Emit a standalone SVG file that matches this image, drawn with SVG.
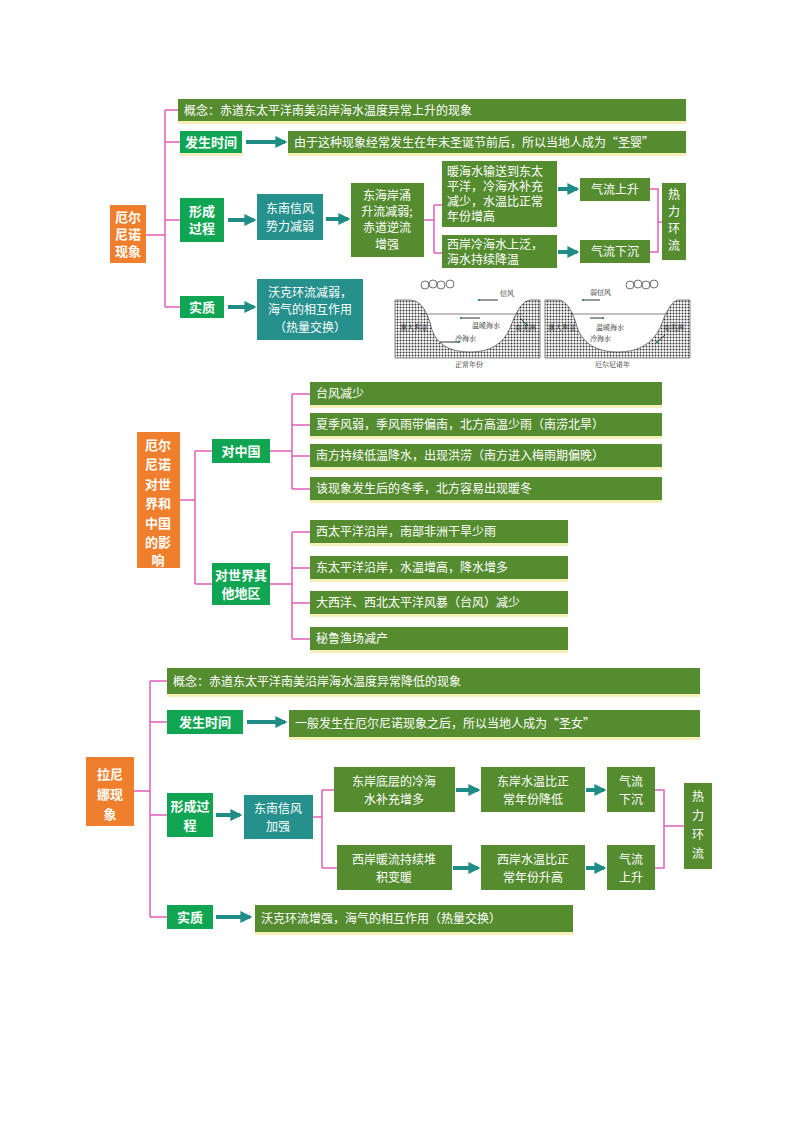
<svg xmlns="http://www.w3.org/2000/svg" width="800" height="1132" viewBox="0 0 800 1132">
<defs>
<marker id="ah" viewBox="0 0 10 10" refX="8" refY="5" markerWidth="3" markerHeight="3" orient="auto"><path d="M0,0 L10,5 L0,10 z" fill="#1f8c86"/></marker>
<pattern id="dots" width="3" height="3" patternUnits="userSpaceOnUse"><rect width="3" height="3" fill="#fff"/><circle cx="1.5" cy="1.5" r="1" fill="#333"/></pattern>
</defs>
<style>
text{font-family:"Noto Sans CJK SC","Noto Sans",sans-serif;fill:#fff;}
.ol{fill:#548c2f;}
.gr{fill:#10a552;}
.tl{fill:#25908c;}
.or{fill:#ef7f2c;}
.sh{fill:#f0ea9a;opacity:.7;}
.pk{stroke:#e060b8;stroke-width:1.5;fill:none;}
.ar{stroke:#1f8c86;stroke-width:4;fill:none;marker-end:url(#ah);}
.t{font-size:12px;}
.tb{font-size:13px;font-weight:bold;}
.tk{fill:#222;font-size:7px;font-family:"Noto Serif CJK SC","Noto Sans CJK SC",serif;}
</style>
<rect width="800" height="1132" fill="#fff"/>

<g id="connectors">
<path class="pk" d="M146,235 H165 M165,110 V307 M165,110 H178 M165,142 H180 M165,220 H180 M165,307 H180"/>
<path class="pk" d="M424,220 H434 M434,205 V253 M434,205 H442 M434,253 H442"/>
<path class="pk" d="M650,189 H658 V252 H650 M658,222 H662"/>
<path class="ar" d="M246,142 H285"/>
<path class="ar" d="M228,220 H254"/>
<path class="ar" d="M326,219 H348"/>
<path class="ar" d="M558,189 H577"/>
<path class="ar" d="M558,252 H577"/>
<path class="ar" d="M228,307 H254"/>

<path class="pk" d="M180,500 H195 M195,451 V584 M195,451 H212 M195,584 H212"/>
<path class="pk" d="M270,451 H292 M292,394 V489 M292,394 H310 M292,425 H310 M292,456 H310 M292,489 H310"/>
<path class="pk" d="M270,584 H292 M292,532 V639 M292,532 H310 M292,568 H310 M292,603 H310 M292,639 H310"/>

<path class="pk" d="M134,791 H150 M150,681 V917 M150,681 H167 M150,722 H167 M150,815 H167 M150,917 H167"/>
<path class="pk" d="M313,817 H322 M322,790 V868 M322,790 H334 M322,868 H337"/>
<path class="pk" d="M655,790 H664 V868 H655 M664,826 H684"/>
<path class="ar" d="M247,722 H285"/>
<path class="ar" d="M216,815 H240"/>
<path class="ar" d="M456,790 H478"/>
<path class="ar" d="M453,868 H478"/>
<path class="ar" d="M586,790 H604"/>
<path class="ar" d="M586,868 H604"/>
<path class="ar" d="M216,917 H250"/>
</g>

<!-- Section 1 -->
<g id="n1"><rect x="110" y="205" width="36" height="58" class="or"/><text class="tb" x="128" y="222" text-anchor="middle">厄尔</text><text class="tb" x="128" y="239" text-anchor="middle">尼诺</text><text class="tb" x="128" y="256" text-anchor="middle">现象</text></g>
<g id="n2"><rect x="178" y="121" width="508" height="3" class="sh"/><rect x="178" y="99" width="508" height="22" class="ol"/><text class="t" x="184" y="115">概念：赤道东太平洋南美沿岸海水温度异常上升的现象</text></g>
<g id="n3"><rect x="180" y="153" width="62" height="3" class="sh"/><rect x="180" y="131" width="62" height="22" class="gr"/><text class="tb" x="211" y="147" text-anchor="middle">发生时间</text></g>
<g id="n4"><rect x="288" y="153" width="398" height="3" class="sh"/><rect x="288" y="131" width="398" height="22" class="ol"/><text class="t" x="294" y="147">由于这种现象经常发生在年末圣诞节前后，所以当地人成为“圣婴”</text></g>
<g id="n5"><rect x="180" y="198" width="44" height="44" class="gr"/><text class="tb" x="202" y="216" text-anchor="middle">形成</text><text class="tb" x="202" y="233" text-anchor="middle">过程</text></g>
<g id="n6"><rect x="257" y="194" width="66" height="46" class="tl"/><text class="t" x="290" y="213" text-anchor="middle">东南信风</text><text class="t" x="290" y="231" text-anchor="middle">势力减弱</text></g>
<g id="n7"><rect x="351" y="183" width="73" height="74" class="ol"/><text class="t" x="387" y="200" text-anchor="middle">东海岸涌</text><text class="t" x="387" y="216" text-anchor="middle">升流减弱;</text><text class="t" x="387" y="232" text-anchor="middle">赤道逆流</text><text class="t" x="387" y="249" text-anchor="middle">增强</text></g>
<g id="n8"><rect x="442" y="161" width="115" height="66" class="ol"/><text class="t" x="447" y="176">暖海水输送到东太</text><text class="t" x="447" y="191">平洋，冷海水补充</text><text class="t" x="447" y="206">减少，水温比正常</text><text class="t" x="447" y="221">年份增高</text></g>
<g id="n9"><rect x="442" y="235" width="115" height="33" class="ol"/><text class="t" x="447" y="249">西岸冷海水上泛，</text><text class="t" x="447" y="264">海水持续降温</text></g>
<g id="n10"><rect x="580" y="178" width="70" height="23" class="ol"/><text class="t" x="615" y="194" text-anchor="middle">气流上升</text></g>
<g id="n11"><rect x="580" y="240" width="70" height="23" class="ol"/><text class="t" x="615" y="256" text-anchor="middle">气流下沉</text></g>
<g id="n12"><rect x="662" y="183" width="24" height="77" class="ol"/><text class="t" x="674" y="199" text-anchor="middle">热</text><text class="t" x="674" y="216" text-anchor="middle">力</text><text class="t" x="674" y="233" text-anchor="middle">环</text><text class="t" x="674" y="250" text-anchor="middle">流</text></g>
<g id="n13"><rect x="180" y="296" width="44" height="22" class="gr"/><text class="tb" x="202" y="312" text-anchor="middle">实质</text></g>
<g id="n14"><rect x="257" y="279" width="106" height="61" class="tl"/><text class="t" x="310" y="297" text-anchor="middle">沃克环流减弱，</text><text class="t" x="310" y="314" text-anchor="middle">海气的相互作用</text><text class="t" x="310" y="332" text-anchor="middle">（热量交换）</text></g>

<g id="figure">
<path d="M395,300 H410 Q425,300 432,330 Q440,352 470,352 Q500,352 510,328 Q520,300 530,300 H540 V358 H395 z" fill="url(#dots)" stroke="#333" stroke-width=".6"/>
<line x1="420" y1="314" x2="522" y2="314" stroke="#333" stroke-width=".6"/>
<path d="M545,300 H558 Q570,300 578,330 Q588,352 618,352 Q648,352 660,328 Q670,300 678,300 H690 V358 H545 z" fill="url(#dots)" stroke="#333" stroke-width=".6"/>
<line x1="570" y1="314" x2="668" y2="314" stroke="#333" stroke-width=".6"/>
<g fill="none" stroke="#333" stroke-width=".7">
<circle cx="425" cy="285" r="4"/><circle cx="433" cy="284" r="4"/><circle cx="441" cy="285" r="4"/><circle cx="450" cy="284" r="4"/>
<circle cx="630" cy="285" r="4"/><circle cx="638" cy="284" r="4"/><circle cx="646" cy="285" r="4"/><circle cx="654" cy="284" r="4"/>
</g>
<g stroke="#333" stroke-width="1" marker-end="url(#ah)">
<line x1="498" y1="300" x2="478" y2="300"/><line x1="600" y1="300" x2="582" y2="300"/>
<line x1="480" y1="318" x2="460" y2="318"/><line x1="440" y1="342" x2="460" y2="342"/>
<line x1="520" y1="318" x2="528" y2="326"/><line x1="590" y1="318" x2="604" y2="318"/><line x1="665" y1="335" x2="656" y2="343"/>
</g>
<text class="tk" x="500" y="296">信风</text><text class="tk" x="590" y="295">弱信风</text>
<text class="tk" x="472" y="328">温暖海水</text><text class="tk" x="455" y="341">冷海水</text>
<text class="tk" x="596" y="330">温暖海水</text><text class="tk" x="590" y="341">冷海水</text>
<text class="tk" x="400" y="330">澳大利亚</text><text class="tk" x="515" y="330">南美洲</text>
<text class="tk" x="548" y="330">澳大利亚</text><text class="tk" x="663" y="330">南美洲</text>
<text class="tk" x="455" y="367">正常年份</text><text class="tk" x="595" y="367">厄尔尼诺年</text>
</g>

<!-- Section 2 -->
<g id="n15"><rect x="137" y="432" width="43" height="136" class="or"/><text class="tb" x="158" y="450" text-anchor="middle">厄尔</text><text class="tb" x="158" y="469" text-anchor="middle">尼诺</text><text class="tb" x="158" y="489" text-anchor="middle">对世</text><text class="tb" x="158" y="508" text-anchor="middle">界和</text><text class="tb" x="158" y="528" text-anchor="middle">中国</text><text class="tb" x="158" y="547" text-anchor="middle">的影</text><text class="tb" x="158" y="565" text-anchor="middle">响</text></g>
<g id="n16"><rect x="212" y="439" width="58" height="24" class="gr"/><text class="tb" x="241" y="456" text-anchor="middle">对中国</text></g>
<g id="n17"><rect x="212" y="563" width="58" height="42" class="gr"/><text class="tb" x="241" y="580" text-anchor="middle">对世界其</text><text class="tb" x="241" y="598" text-anchor="middle">他地区</text></g>
<g id="n18"><rect x="310" y="405" width="352" height="3" class="sh"/><rect x="310" y="382" width="352" height="23" class="ol"/><text class="t" x="316" y="398">台风减少</text></g>
<g id="n19"><rect x="310" y="436" width="352" height="3" class="sh"/><rect x="310" y="413" width="352" height="23" class="ol"/><text class="t" x="316" y="429">夏季风弱，季风雨带偏南，北方高温少雨（南涝北旱）</text></g>
<g id="n20"><rect x="310" y="467" width="352" height="3" class="sh"/><rect x="310" y="444" width="352" height="23" class="ol"/><text class="t" x="316" y="460">南方持续低温降水，出现洪涝（南方进入梅雨期偏晚）</text></g>
<g id="n21"><rect x="310" y="500" width="352" height="3" class="sh"/><rect x="310" y="477" width="352" height="23" class="ol"/><text class="t" x="316" y="493">该现象发生后的冬季，北方容易出现暖冬</text></g>
<g id="n22"><rect x="310" y="543" width="258" height="3" class="sh"/><rect x="310" y="520" width="258" height="23" class="ol"/><text class="t" x="316" y="536">西太平洋沿岸，南部非洲干旱少雨</text></g>
<g id="n23"><rect x="310" y="579" width="258" height="3" class="sh"/><rect x="310" y="556" width="258" height="23" class="ol"/><text class="t" x="316" y="572">东太平洋沿岸，水温增高，降水增多</text></g>
<g id="n24"><rect x="310" y="614" width="258" height="3" class="sh"/><rect x="310" y="591" width="258" height="23" class="ol"/><text class="t" x="316" y="607">大西洋、西北太平洋风暴（台风）减少</text></g>
<g id="n25"><rect x="310" y="650" width="258" height="3" class="sh"/><rect x="310" y="627" width="258" height="23" class="ol"/><text class="t" x="316" y="643">秘鲁渔场减产</text></g>

<!-- Section 3 -->
<g id="n26"><rect x="86" y="757" width="48" height="69" class="or"/><text class="tb" x="110" y="779" text-anchor="middle">拉尼</text><text class="tb" x="110" y="799" text-anchor="middle">娜现</text><text class="tb" x="110" y="819" text-anchor="middle">象</text></g>
<g id="n27"><rect x="167" y="694" width="533" height="3" class="sh"/><rect x="167" y="668" width="533" height="26" class="ol"/><text class="t" x="173" y="686">概念：赤道东太平洋南美沿岸海水温度异常降低的现象</text></g>
<g id="n28"><rect x="167" y="710" width="76" height="24" class="gr"/><text class="tb" x="205" y="727" text-anchor="middle">发生时间</text></g>
<g id="n29"><rect x="289" y="737" width="411" height="3" class="sh"/><rect x="289" y="710" width="411" height="27" class="ol"/><text class="t" x="295" y="728">一般发生在厄尔尼诺现象之后，所以当地人成为“圣女”</text></g>
<g id="n30"><rect x="167" y="793" width="46" height="44" class="gr"/><text class="tb" x="190" y="811" text-anchor="middle">形成过</text><text class="tb" x="190" y="830" text-anchor="middle">程</text></g>
<g id="n31"><rect x="244" y="795" width="69" height="44" class="tl"/><text class="t" x="278" y="813" text-anchor="middle">东南信风</text><text class="t" x="278" y="831" text-anchor="middle">加强</text></g>
<g id="n32"><rect x="334" y="767" width="121" height="45" class="ol"/><text class="t" x="394" y="786" text-anchor="middle">东岸底层的冷海</text><text class="t" x="394" y="804" text-anchor="middle">水补充增多</text></g>
<g id="n33"><rect x="337" y="845" width="115" height="45" class="ol"/><text class="t" x="394" y="864" text-anchor="middle">西岸暖流持续堆</text><text class="t" x="394" y="882" text-anchor="middle">积变暖</text></g>
<g id="n34"><rect x="481" y="767" width="104" height="45" class="ol"/><text class="t" x="533" y="786" text-anchor="middle">东岸水温比正</text><text class="t" x="533" y="804" text-anchor="middle">常年份降低</text></g>
<g id="n35"><rect x="481" y="845" width="104" height="45" class="ol"/><text class="t" x="533" y="864" text-anchor="middle">西岸水温比正</text><text class="t" x="533" y="882" text-anchor="middle">常年份升高</text></g>
<g id="n36"><rect x="607" y="767" width="48" height="45" class="ol"/><text class="t" x="631" y="786" text-anchor="middle">气流</text><text class="t" x="631" y="804" text-anchor="middle">下沉</text></g>
<g id="n37"><rect x="607" y="845" width="48" height="45" class="ol"/><text class="t" x="631" y="864" text-anchor="middle">气流</text><text class="t" x="631" y="882" text-anchor="middle">上升</text></g>
<g id="n38"><rect x="684" y="783" width="28" height="86" class="ol"/><text class="t" x="698" y="801" text-anchor="middle">热</text><text class="t" x="698" y="820" text-anchor="middle">力</text><text class="t" x="698" y="839" text-anchor="middle">环</text><text class="t" x="698" y="858" text-anchor="middle">流</text></g>
<g id="n39"><rect x="167" y="905" width="46" height="24" class="gr"/><text class="tb" x="190" y="922" text-anchor="middle">实质</text></g>
<g id="n40"><rect x="255" y="932" width="318" height="3" class="sh"/><rect x="255" y="905" width="318" height="27" class="ol"/><text class="t" x="261" y="923">沃克环流增强，海气的相互作用（热量交换）</text></g>
</svg>
